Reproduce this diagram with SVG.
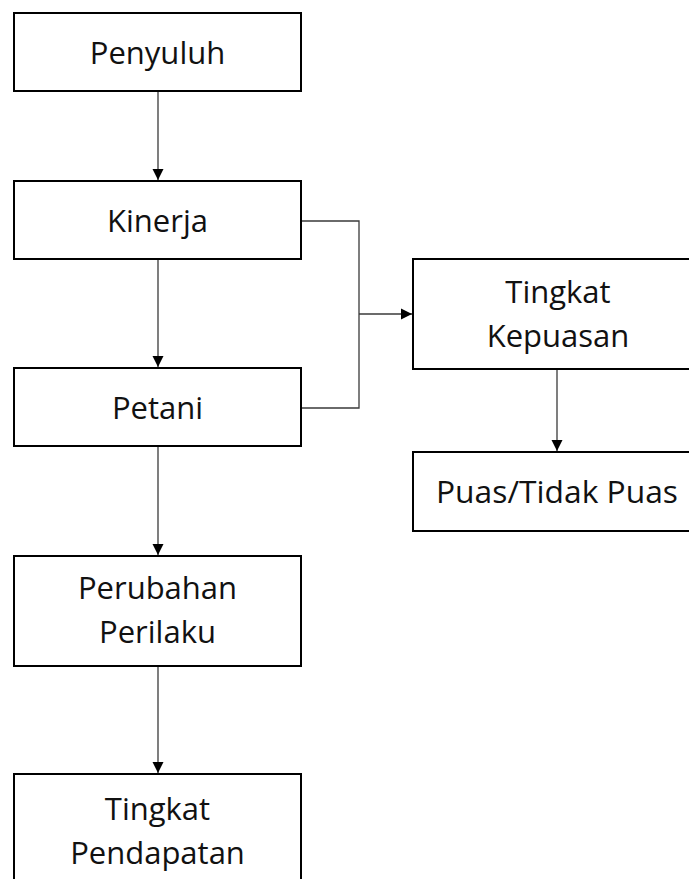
<svg xmlns="http://www.w3.org/2000/svg" width="689" height="879" viewBox="0 0 689 879">
<style>
.box{fill:#fff;stroke:#000;stroke-width:2}
.t{font-family:"Open Sans","Liberation Sans",sans-serif;font-size:31px;fill:#111;text-anchor:middle}
.c{fill:none;stroke:#3a3a3a;stroke-width:1.3}
</style>
<defs>
<marker id="ah" markerWidth="12" markerHeight="12" refX="11" refY="6" orient="auto" markerUnits="userSpaceOnUse">
<path d="M0,0.5 L11,6 L0,11.5 Z" fill="#000"/>
</marker>
</defs>
<g id="connectors">
<path class="c" d="M158,92 V180" marker-end="url(#ah)"/>
<path class="c" d="M158,260 V367" marker-end="url(#ah)"/>
<path class="c" d="M158,447 V555" marker-end="url(#ah)"/>
<path class="c" d="M158,666 V773" marker-end="url(#ah)"/>
<path class="c" d="M301,221 H359 V408 H301"/>
<path class="c" d="M359,314 H412" marker-end="url(#ah)"/>
<path class="c" d="M557,370 V451" marker-end="url(#ah)"/>
</g>
<g id="penyuluh">
<rect class="box" x="14" y="13" width="287" height="78"/>
<text class="t" x="157.5" y="64">Penyuluh</text>
</g>
<g id="kinerja">
<rect class="box" x="14" y="181" width="287" height="78"/>
<text class="t" x="157.5" y="232">Kinerja</text>
</g>
<g id="petani">
<rect class="box" x="14" y="368" width="287" height="78"/>
<text class="t" x="157.5" y="419">Petani</text>
</g>
<g id="perubahan">
<rect class="box" x="14" y="556" width="287" height="110"/>
<text class="t" x="157.5" y="599">Perubahan</text>
<text class="t" x="157.5" y="643">Perilaku</text>
</g>
<g id="pendapatan">
<rect class="box" x="14" y="774" width="287" height="120"/>
<text class="t" x="157.5" y="820">Tingkat</text>
<text class="t" x="157.5" y="864">Pendapatan</text>
</g>
<g id="kepuasan">
<rect class="box" x="413" y="259" width="300" height="110"/>
<text class="t" x="558" y="303">Tingkat</text>
<text class="t" x="558" y="347">Kepuasan</text>
</g>
<g id="puas">
<rect class="box" x="413" y="452" width="300" height="79"/>
<text class="t" x="557" y="503" textLength="242" lengthAdjust="spacingAndGlyphs">Puas/Tidak Puas</text>
</g>
</svg>
